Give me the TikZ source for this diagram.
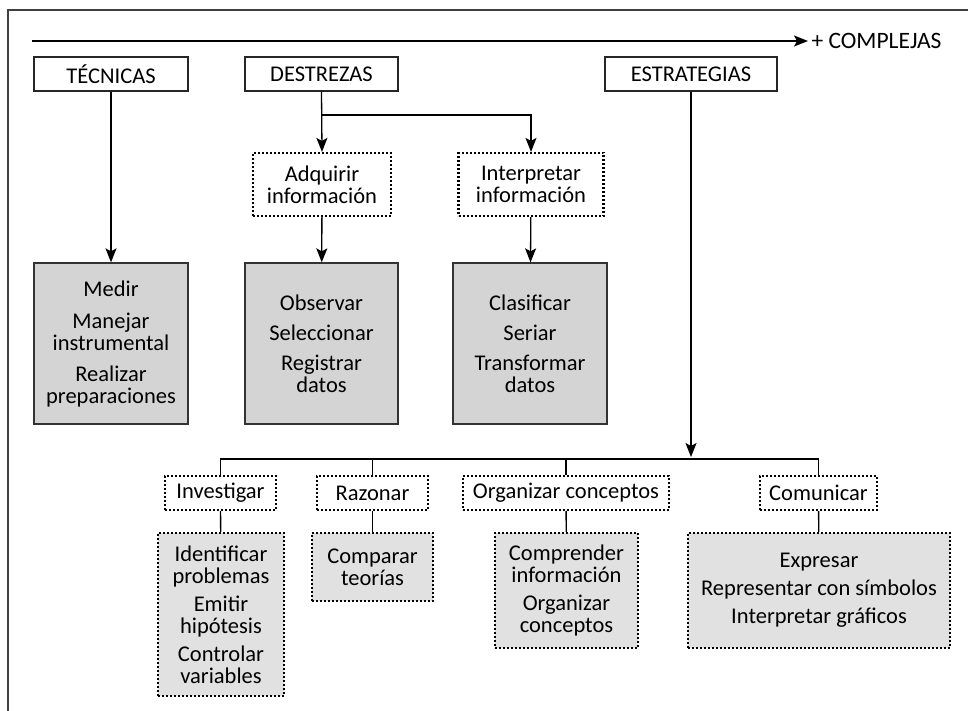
\documentclass[tikz,border=0pt]{standalone}
\usepackage{fontspec}
\setmainfont{Carlito}
\usepackage{xcolor}
\usetikzlibrary{positioning, calc, arrows, arrows.meta, shapes}
\tikzset{>={Stealth[length=14pt, width=11pt, inset=3pt]}}
\definecolor{grisOscuro}{HTML}{D4D4D4}
\definecolor{grisClaro}{HTML}{E1E1E1}
\tikzset{
  tipo/.style={draw=black!85, line width=1.4pt, minimum height=34pt, inner sep=0pt},
  grupo/.style={draw=black, line width=2.2pt, dash pattern=on 2pt off 2pt,
    minimum height=34pt, inner sep=0pt, align=center},
  lista/.style={draw=black!80, line width=1.3pt, fill=grisOscuro, minimum width=154pt,
    minimum height=161pt, inner sep=0pt, align=center},
  sublista/.style={draw=black, line width=2.2pt, dash pattern=on 2pt off 2pt,
    fill=grisClaro, inner sep=0pt, align=center},
  flecha/.style={->, line width=1.3pt},
  rama/.style={line width=1.3pt}
}

\begin{document}
\begin{tikzpicture}[x=1pt, y=-1pt, font=\fontsize{22.5}{22}\selectfont]
    \useasboundingbox (0,0) rectangle (968,710);
    % marco
    \draw [line width=1.3pt, black!75] (8,712) -- (8,10) -- (970,10);

    % eje de complejidad
    \coordinate (inicio) at (32,41);
    \node [anchor=west, font=\fontsize{23.5}{22}\selectfont] (complejas) at (808,41) {+ COMPLEJAS};
    \draw [flecha] (inicio) -- (complejas.west);

    % tipos de procedimientos
    \node [tipo, minimum width=154pt] (tecnicas) at (111,74) {TÉCNICAS};
    \node [tipo, minimum width=153pt] (destrezas) at (321.5,74) {DESTREZAS};
    \node [tipo, minimum width=172pt] (estrategias) at (691,74) {ESTRATEGIAS};

    \node [grupo, minimum width=138pt, minimum height=63pt] (adquirir) at (322,184.5)
      {Adquirir\\información};
    \node [grupo, minimum width=145pt, minimum height=63pt] (interpretar) at (531,184.5)
      {Interpretar\\información};

    \node [lista] (medir) at (111,343.5)
      {Medir\\[10pt]Manejar\\instrumental\\[9pt]Realizar\\preparaciones};
    \node [lista, minimum width=153pt] (observar) at (321.5,343.5)
      {Observar\\[8pt]Seleccionar\\[8pt]Registrar\\datos};
    \node [lista] (clasificar) at (530,343.5)
      {Clasificar\\[8pt]Seriar\\[8pt]Transformar\\datos};

    \coordinate (bifD) at (321.5,115);
    \coordinate (bifE) at (691,459);

    \path [flecha]
    (tecnicas) edge (medir)
    (destrezas.south) edge (adquirir.north)
    (adquirir) edge (observar)
    (interpretar) edge (clasificar);
    \draw [flecha] (bifD) -| (interpretar.north);
    \draw [flecha, shorten >=2pt] (estrategias) -- (bifE);

    % estrategias
    \node [grupo, minimum width=111pt] (investigar) at (220.5,493) {Investigar};
    \node [grupo, minimum width=111pt] (razonar) at (372.5,493) {Razonar};
    \node [grupo, minimum width=206pt] (organizar) at (566,493) {Organizar conceptos};
    \node [grupo, minimum width=117pt] (comunicar) at (818.5,493) {Comunicar};

    \node [sublista, minimum width=126pt, minimum height=163pt] (identificar) at (221,614.5)
      {Identificar\\problemas\\[6pt]Emitir\\hipótesis\\[6pt]Controlar\\variables};
    \node [sublista, minimum width=121pt, minimum height=68pt] (comparar) at (372.5,567)
      {Comparar\\teorías};
    \node [sublista, minimum width=143pt, minimum height=115pt] (comprender) at (566.5,590.5)
      {Comprender\\información\\[6pt]Organizar\\conceptos};
    \node [sublista, minimum width=262pt, minimum height=115pt] (expresar) at (819,590.5)
      {Expresar\\[6pt]Representar con símbolos\\[6pt]Interpretar gráficos};

    \draw [rama] (investigar.north) |- (bifE) -| (comunicar.north);
    \draw [rama] (razonar.north) -- (razonar.north |- bifE);
    \draw [rama] (organizar.north) -- (organizar.north |- bifE);
    \path [rama]
    (investigar) edge (identificar)
    (razonar) edge (comparar)
    (organizar) edge (comprender)
    (comunicar) edge (expresar);
\end{tikzpicture}
\end{document}
